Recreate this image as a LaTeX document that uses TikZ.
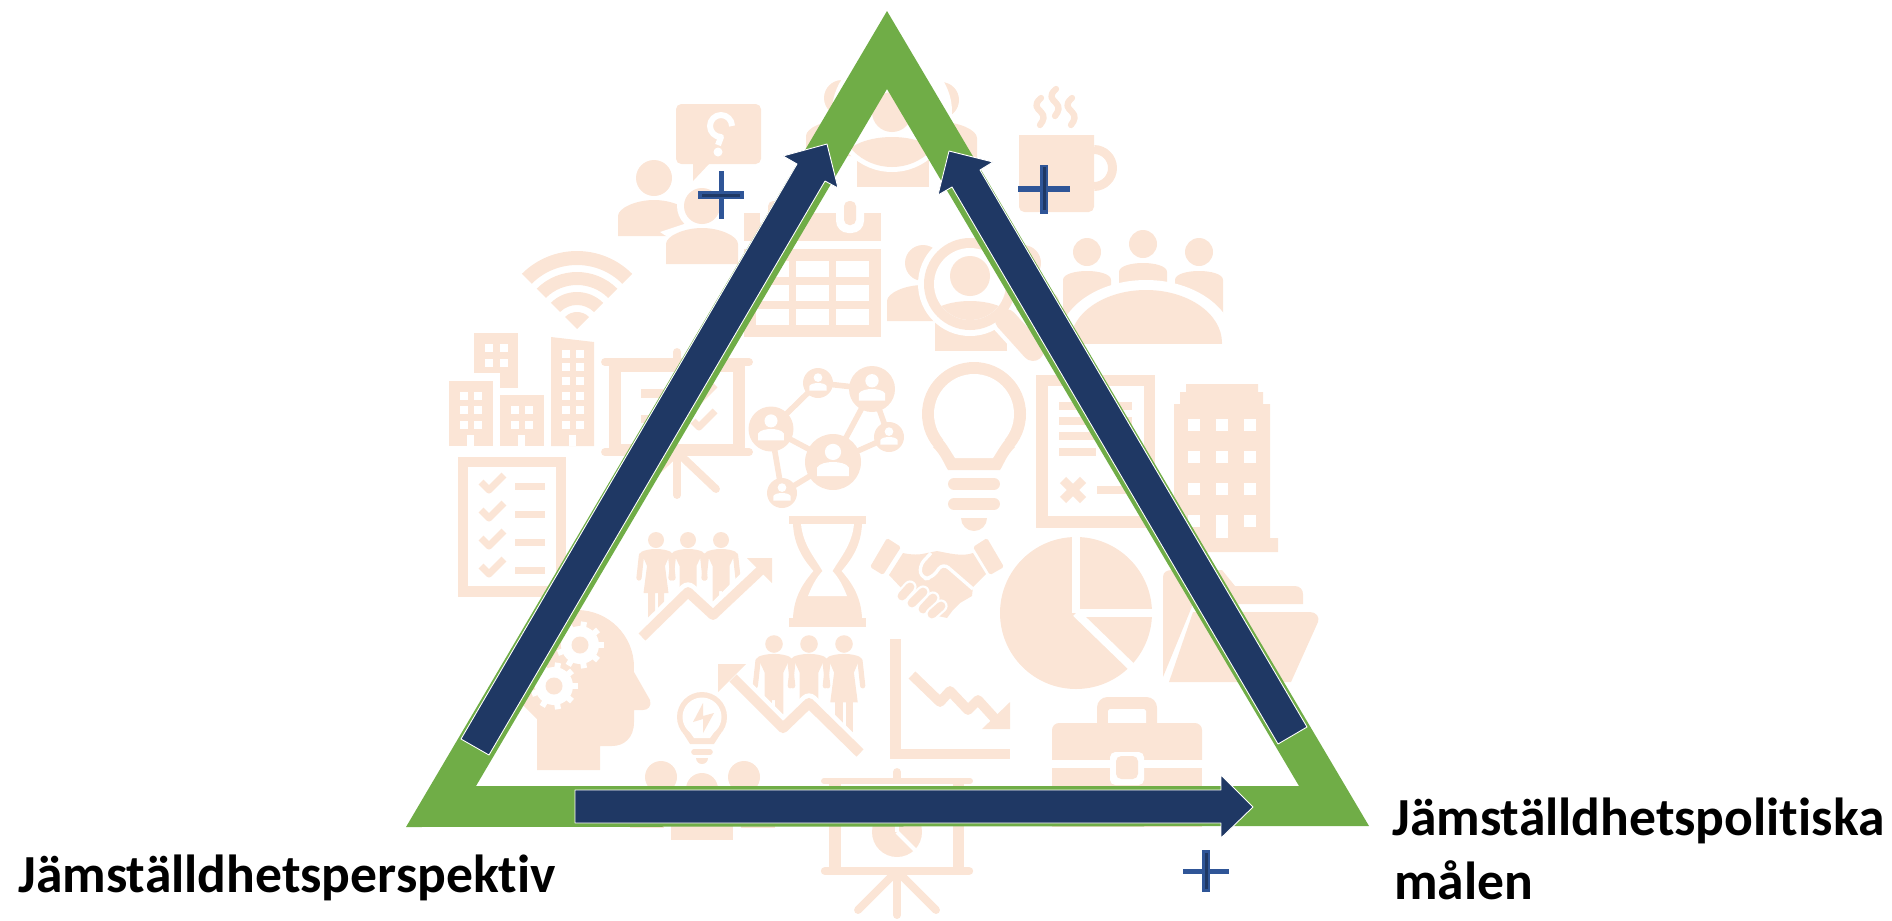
\documentclass[tikz,border=0pt]{standalone}
\usepackage{fontspec}
\setmainfont[Ligatures=NoCommon]{Carlito}
\definecolor{iconpeach}{HTML}{FBE5D6}
\definecolor{bandgreen}{HTML}{70AD47}
\definecolor{arrownavy}{HTML}{1F3864}
\definecolor{plusblue}{HTML}{2F5597}
\tikzset{
	icon/.style={fill=iconpeach},
	iconline/.style={draw=iconpeach,line width=#1},
	iconround/.style={draw=iconpeach,line cap=round,line width=#1},
	gapfill/.style={fill=white},
	gapline/.style={draw=white,line cap=round,line width=#1},
	navyarrow/.style={fill=arrownavy,draw=white,line width=0.5pt},
	bigtext/.style={font=\fontsize{30.5}{36.4}\selectfont\bfseries,inner sep=0pt,align=left}
}
\newcommand{\iconperson}[3]{
	\begin{scope}[shift={(#1,#2)},scale=#3]
		\fill[icon] (0,0) circle (18);
		\fill[icon] (-36,58)--(-36,38) .. controls (-36,30) and (-18,22) .. (0,22) .. controls (18,22) and (36,30) .. (36,38)--(36,58)--cycle;
	\end{scope}}
\newcommand{\netperson}[3]{
	\begin{scope}[shift={(#1,#2)},scale=#3]
		\fill[icon] (0,0) circle (1);
		\fill[gapfill] (0,-0.36) circle (0.29);
		\fill[gapfill] (-0.57,0.5)--(-0.57,0.2) .. controls (-0.5,0.05) and (-0.2,0) .. (0,0) .. controls (0.2,0) and (0.5,0.05) .. (0.57,0.2)--(0.57,0.5)--cycle;
	\end{scope}}
\newcommand{\figtorso}[3]{
	\begin{scope}[shift={(#1,#2)},scale=#3]
		\fill[icon] (0,0) circle (8);
		\draw[iconround=3pt] (-14.5,15)--(-17,38);
		\draw[iconround=3pt] (14.5,15)--(17,38);
	\end{scope}}
\newcommand{\figwoman}[3]{
	\figtorso{#1}{#2}{#3}
	\begin{scope}[shift={(#1,#2)},scale=#3]
		\fill[icon] (-15,12) .. controls (-8,8) and (8,8) .. (15,12)--(9,26)--(12.5,53)--(8,53)--(8,80)--(2,80)--(2,53)--(-1,53)--(-1,80)--(-8,80)--(-8,53)--(-12.5,53)--(-9,26)--cycle;
	\end{scope}}
\newcommand{\figman}[3]{
	\figtorso{#1}{#2}{#3}
	\begin{scope}[shift={(#1,#2)},scale=#3]
		\fill[icon] (-15,12) .. controls (-8,8) and (8,8) .. (15,12)--(8.5,26)--(8.5,80)--(1,80)--(1,51)--(-2,51)--(-2,80)--(-8.5,80)--(-8.5,26)--cycle;
	\end{scope}}
\newcommand{\icongear}[2]{
	\begin{scope}[shift={(#1,#2)}]
		\fill[gapfill] (0,0) circle (19);
		\foreach \a in {0,40,...,320}
			\draw[white,line width=3.4pt] (\a:16)--(\a:23.5);
		\fill[icon] (0,0) circle (8.5);
	\end{scope}}
\newcommand{\plusmark}[6]{
	\fill[plusblue] (#1-#3,#2-#5)rectangle(#1+#3,#2+#5);
	\fill[plusblue] (#1-#6,#2-#4)rectangle(#1+#6,#2+#4);}
\begin{document}
\begin{tikzpicture}[line join=round,x=0.02cm,y=-0.02cm]
	\useasboundingbox (0,0) rectangle (1892,920);
	% speech bubble and two persons
	\fill[icon,rounded corners=3pt] (676,104) rectangle (761,164);
	\fill[icon] (693,160)--(693,181)--(709,164)--(709,160)--cycle;
	\draw[gapline=3.4pt,line cap=butt] (732,126) arc[start angle=0,end angle=-270,radius=11]--(718,145);
	\fill[gapfill] (718,152) circle (4.5);
	\iconperson{654}{178}{1}
	\fill[gapfill] (702,206) circle (25);
	\fill[gapfill] (660,232)--(690,222)--(710,240)--(680,245)--cycle;
	\iconperson{702}{206}{1}
	% wifi
	\begin{scope}[shift={(577,329)}]
		\foreach \ro/\ri in {78/64,57/44,37/24}
			\fill[icon] (-135:\ro) arc[start angle=-135,end angle=-45,radius=\ro]--(-45:\ri) arc[start angle=-45,end angle=-135,radius=\ri]--cycle;
		\fill[icon] (0,0)--(-135:17) arc[start angle=-135,end angle=-45,radius=17]--cycle;
	\end{scope}
	% calendar
	\fill[icon] (744,213) rectangle (881,241);
	\fill[icon] (744,249) rectangle (881,337);
	\foreach \x in {756,796,836}
		\foreach \y in {261,285,309}
			\fill[gapfill] (\x,\y) rectangle (\x+32.5,\y+16);
	\foreach \x in {774,850}{
		\fill[gapfill,rounded corners=7pt] (\x-14,200) rectangle (\x+14,233);
		\fill[icon,rounded corners=3pt] (\x-6,201) rectangle (\x+6,225);}
	% person group below the apex
	\iconperson{842}{98}{1}
	\iconperson{941}{100}{1}
	\fill[icon] (857,187)--(857,160)--(929,160)--(929,187)--cycle;
	\fill[gapfill] (892,112) circle (60);
	\begin{scope}
		\clip (892,112) circle (55);
		\fill[icon] (892,162) ellipse (50 and 25);
	\end{scope}
	\fill[icon] (892,112) circle (20);
	% person with magnifier
	\iconperson{923}{263}{1}
	\iconperson{1023}{263}{1}
	\fill[icon] (935,351)--(935,320)--(1007,320)--(1007,351)--cycle;
	\fill[gapfill] (970,284) circle (52);
	\draw[gapline=17pt] (1002,316)--(1033,350);
	\draw[iconround=12.5pt] (1006,320)--(1033,350);
	\fill[icon] (970,284) circle (46);
	\fill[gapfill] (970,284) circle (36);
	\fill[icon] (970,276) circle (20);
	\begin{scope}
		\clip (970,284) circle (36);
		\fill[icon] (970,326) ellipse (48 and 25);
	\end{scope}
	% mug
	\fill[icon] (1019,135)--(1094,135) [rounded corners=3pt]--(1094,212)--(1019,212) [sharp corners]--cycle;
	\draw[iconline=5.1pt] (1094,149.5) arc[start angle=-90,end angle=90,radius=18.5];
	\foreach \x/\y in {1041/98,1056/89,1072/98}
		\draw[iconround=3.6pt] (\x,\y) .. controls (\x-8,\y+7) and (\x-4,\y+10) .. (\x,\y+14) .. controls (\x+4,\y+18) and (\x+3,\y+22) .. (\x-1,\y+27);
	% meeting table
	\foreach \x/\y in {1087/252,1143/244,1199/252}{
		\fill[icon] (\x,\y) circle (14);
		\fill[icon] (\x-24,\y+69)--(\x-24,\y+28) .. controls (\x-24,\y+22) and (\x-12,\y+19) .. (\x,\y+19) .. controls (\x+12,\y+19) and (\x+24,\y+22) .. (\x+24,\y+28)--(\x+24,\y+69)--cycle;}
	\fill[gapfill] (1146,343) ellipse (88 and 63);
	\fill[gapfill] (1050,343) rectangle (1240,360);
	\begin{scope}
		\clip (1060,280) rectangle (1235,343);
		\fill[icon] (1146,343) ellipse (76 and 53);
	\end{scope}
	% buildings
	\fill[icon] (474,333) rectangle (518,373);
	\fill[icon] (500,373) rectangle (518,388);
	\fill[icon] (449,381) rectangle (493,446);
	\fill[icon] (500,395) rectangle (544,446);
	\fill[icon] (551,337)--(594,342)--(594,446)--(551,446)--cycle;
	\foreach \x/\w in {467/7,518/7,569/7}
		\fill[gapfill] (\x,435) rectangle (\x+\w,446);
	\foreach \x/\y in {485/344,500/344,485/359,500/359,460/392,474/392,460/406,474/406,460/421,474/421,511/406,525/406,511/421,525/421,562/350,576/350,562/363,576/363,562/377,576/377,562/392,576/392,562/406,576/406,562/421,576/421}
		\fill[gapfill] (\x,\y) rectangle (\x+7.5,\y+7.5);
	% checklist
	\fill[icon] (458,457) rectangle (566,597);
	\fill[gapfill] (468,467) rectangle (556,586);
	\foreach \y in {485,513,541,569}{
		\draw[iconline=4pt] (481,\y-3)--(489,\y+5)--(504,\y-10);
		\fill[icon] (515,\y-2) rectangle (545,\y+5);}
	% presentation board
	\fill[icon] (609,358) rectangle (745,456);
	\fill[gapfill] (621,372) rectangle (733,444);
	\draw[iconround=4.5pt] (605,362)--(749,362);
	\draw[iconround=4.5pt] (605,452)--(749,452);
	\draw[iconround=4.5pt] (677,352)--(677,362);
	\draw[iconround=4.5pt] (677,452)--(677,495);
	\draw[iconround=4.5pt] (677,452)--(716,489);
	\draw[iconround=4.5pt] (677,452)--(638,489);
	\fill[icon] (641,389) rectangle (690,398);
	\fill[icon] (641,415) rectangle (690,423);
	\draw[iconline=4pt] (693,395)--(699,401)--(715,385);
	\draw[iconline=4pt] (693,421)--(699,427)--(715,411);
	% network
	\coordinate (nodeA) at (771,429);
	\coordinate (nodeB) at (818,383);
	\coordinate (nodeC) at (872,389);
	\coordinate (nodeD) at (889,437);
	\coordinate (nodeE) at (833,462);
	\coordinate (nodeF) at (782,493);
	\foreach \a/\b in {nodeA/nodeB,nodeB/nodeC,nodeC/nodeE,nodeC/nodeD,nodeD/nodeE,nodeA/nodeE,nodeA/nodeF,nodeF/nodeE}
		\draw[iconline=3.2pt] (\a)--(\b);
	\netperson{771}{429}{22.5}
	\netperson{818}{383}{15}
	\netperson{872}{389}{23}
	\netperson{889}{437}{15}
	\netperson{833}{462}{28}
	\netperson{782}{493}{15}
	% light bulb
	\fill[icon] (974,414) circle (52);
	\fill[icon] (933,447) .. controls (942,456) and (944,464) .. (948,470)--(1000,470) .. controls (1004,464) and (1006,456) .. (1015,447)--cycle;
	\fill[gapfill] (974,414) circle (40);
	\fill[gapfill] (943,440) .. controls (948,446) and (951,452) .. (955,458)--(993,458) .. controls (997,452) and (1000,446) .. (1005,440)--cycle;
	\draw[iconround=6.8pt] (954,484)--(994,484);
	\draw[iconround=6.8pt] (954,504)--(994,504);
	\fill[icon] (961,518) arc[start angle=180,end angle=0,radius=13]--cycle;
	% document with lines
	\fill[icon] (1036,375) rectangle (1155,528);
	\fill[gapfill] (1048,386) rectangle (1144,516);
	\foreach \y in {402,417,432}
		\fill[icon] (1059,\y) rectangle (1132,\y+8);
	\fill[icon] (1059,448) rectangle (1096,456);
	\draw[iconline=5pt] (1063,480)--(1083,500);
	\draw[iconline=5pt] (1083,480)--(1063,500);
	\fill[icon] (1097,486) rectangle (1132,494);
	% large building
	\fill[icon] (1186,384)--(1258,384)--(1258,392)--(1263,392)--(1263,404)--(1270,404)--(1270,538)--(1278,538)--(1278,552)--(1166,552)--(1166,538)--(1174,538)--(1174,404)--(1180,404)--(1180,392)--(1186,392)--cycle;
	\foreach \x in {1188,1216,1244}
		\foreach \y in {419,451,483,515}
			\fill[gapfill] (\x,\y) rectangle (\x+12,\y+12);
	\fill[gapfill] (1216,515) rectangle (1228,538);
	% pie chart
	\fill[icon] (1076,613) circle (76);
	\draw[white,line width=4.6pt] (1076,613)--(1076,530);
	\draw[white,line width=4.6pt] (1076,613)--(1160,613);
	\draw[white,line width=4.6pt] (1076,613)--(1140,675);
	% handshake
	\fill[icon,rounded corners=1pt] (887,538)--(901,547)--(883,575)--(870,567)--cycle;
	\fill[icon,rounded corners=1pt] (987,538)--(973,547)--(990,575)--(1004,567)--cycle;
	\fill[icon] (903,553) .. controls (912,555) and (920,555) .. (927,553)--(937,551) .. controls (948,553) and (962,557) .. (973,553)--(986,574)--(973,587)--(972,596)--(960,603)--(953,610)--(947,618)--(938,616)--(905,592)--(889,575)--cycle;
	\foreach \xa/\ya/\xb/\yb in {902/596/910/587,912/603/923/592,923/609/933/598,932/614/941/606}{
		\draw[gapline=7.5pt] (\xa,\ya)--(\xb,\yb);
		\draw[iconround=5pt] (\xa,\ya)--(\xb,\yb);}
	\draw[white,line width=1.9pt,rounded corners=4pt] (931,553)--(919,566)--(922,579)--(932,578)--(943,563)--(973,589);
	% hourglass
	\fill[icon] (789,516) rectangle (866,524);
	\fill[icon] (789,618) rectangle (866,627);
	\fill[icon] (793,524) .. controls (794,548) and (806,562) .. (813.5,571) .. controls (806,580) and (794,594) .. (793,618)--(862,618) .. controls (861,594) and (849,580) .. (841.5,571) .. controls (849,562) and (861,548) .. (862,524)--cycle;
	\fill[gapfill] (801,524) .. controls (803,545) and (815,558) .. (822.5,571) .. controls (816,578) and (812,586) .. (808,596)--(847,596) .. controls (843,586) and (839,578) .. (832.5,571) .. controls (840,558) and (852,545) .. (854,524)--cycle;
	% figures with rising arrow
	\figwoman{656}{540}{1}
	\figman{688}{540}{1}
	\figman{721}{540}{1}
	\fill[gapfill] (632,640)--(642,637)--(688,592)--(713,615)--(763,568)--(775,640)--cycle;
	\draw[white,line width=11pt] (642,637)--(688,592)--(713,615)--(758,570);
	\draw[iconline=5.6pt] (642,637)--(688,592)--(713,615)--(763,568);
	\fill[icon] (747,558)--(772,558)--(772,583)--cycle;
	% figures with falling arrow
	\figman{774}{644}{1.1}
	\figman{809}{644}{1.1}
	\figwoman{844}{644}{1.1}
	\fill[gapfill] (733,678)--(783,728)--(809,703)--(860,753)--(860,760)--(733,760)--cycle;
	\draw[white,line width=11pt] (733,678)--(783,728)--(809,703)--(860,753);
	\draw[iconline=5.8pt] (733,678)--(783,728)--(809,703)--(860,753);
	\fill[icon] (718,664)--(746,664)--(718,692)--cycle;
	% head with gears
	\fill[icon] (577,667) circle (57);
	\fill[icon] (634,672)--(650,700) .. controls (652,706) and (648,710) .. (643,710)--(634,710)--(634,722) .. controls (634,738) and (624,746) .. (612,746)--(600,746)--(600,770)--(537,770)--(537,719)--(523,705)--(560,650)--cycle;
	\icongear{580}{645}
	\icongear{554}{686}
	% small bulb
	\fill[icon] (702,717) circle (25);
	\fill[icon] (683,733)--(690,744)--(714,744)--(721,733)--cycle;
	\fill[gapfill] (702,717) circle (19.5);
	\fill[gapfill] (689,731)--(694,738)--(710,738)--(715,731)--cycle;
	\fill[icon] (703,703)--(693,722)--(703,719)--(703,733)--(714,713)--(703,716)--cycle;
	\draw[iconround=3.2pt] (694,752)--(710,752);
	\fill[icon] (696,758) arc[start angle=180,end angle=0,radius=6]--cycle;
	% falling chart
	\fill[icon] (890,639) rectangle (901,759);
	\fill[icon] (901,749) rectangle (1010,759);
	\draw[iconline=5.6pt] (912,675)--(940,702)--(950,691)--(968,710)--(978,700)--(998,722);
	\fill[icon] (1010,702)--(1010,729)--(982,729)--cycle;
	% briefcase
	\fill[icon,rounded corners=6pt] (1097,735)--(1097,697)--(1157,697)--(1157,735)--cycle;
	\fill[gapfill,rounded corners=1pt] (1108,735)--(1108,709)--(1146,709)--(1146,735)--cycle;
	\fill[icon] (1052,760) [rounded corners=4pt]--(1052,723)--(1202,723) [sharp corners]--(1202,760)--cycle;
	\fill[icon] (1052,768) rectangle (1202,827);
	\fill[gapfill] (1052,760) rectangle (1202,768);
	\fill[gapfill,rounded corners=3pt] (1110,752) rectangle (1144,785);
	\fill[icon,rounded corners=3pt] (1116,756) rectangle (1138,779);
	% folder
	\fill[icon] (1163,677)--(1163,577) .. controls (1163,572) and (1167,570) .. (1172,570)--(1222,570)--(1235,586)--(1295,586) .. controls (1300,586) and (1303,590) .. (1303,594)--(1303,604)--(1193,604)--cycle;
	\fill[icon] (1193,612)--(1310,612) .. controls (1316,612) and (1320,617) .. (1318,622)--(1291,682)--(1169,682)--cycle;
	% persons at the base
	\foreach \x/\y in {661/777,702/789,744/777}
		\fill[icon] (\x,\y) circle (16);
	\fill[icon] (630,800) rectangle (664,828);
	\fill[icon] (671,800) rectangle (733,840);
	\fill[icon] (741,800) rectangle (775,828);
	% lower board
	\fill[icon] (829,781) rectangle (841,871);
	\fill[icon] (953,781) rectangle (964,871);
	\draw[iconround=3.4pt] (824,781)--(970,781);
	\draw[iconround=4.8pt] (825,871)--(969,871);
	\draw[iconround=4.5pt] (897,772)--(897,780);
	\draw[iconround=4.5pt] (897,871)--(897,915);
	\draw[iconround=4.5pt] (897,871)--(858,910);
	\draw[iconround=4.5pt] (897,871)--(936,910);
	\fill[icon] (897,832) circle (25);
	\draw[white,line width=2.4pt] (897,832)--(925,860);
	\draw[white,line width=2.4pt] (897,832)--(897,800);
	% triangle
	\fill[bandgreen,even odd rule] (887,11)--(1369,826)--(406,827)--cycle (887,89)--(476,786)--(1299,786)--cycle;
	% plus signs
	\plusmark{721}{195}{23}{24}{4}{2.5}
	\fill[arrownavy] (702,193.5) rectangle (740,196.5);
	\plusmark{1044}{189}{26}{24.5}{3}{4}
	\fill[arrownavy] (1042.5,167) rectangle (1045.5,210);
	\plusmark{1206}{871}{23}{21}{2.5}{4}
	\fill[arrownavy] (1204.5,853) rectangle (1207.5,889);
	% arrows
	\draw[navyarrow] (461,739)--(797,164)--(783,156)--(827,144)--(838,188)--(825,181)--(489,755)--cycle;
	\draw[navyarrow] (1307,727)--(980,170)--(993,162)--(949,151)--(938,195)--(952,187)--(1278,744)--cycle;
	\draw[navyarrow] (575,790)--(1221,790)--(1221,775)--(1253,807)--(1221,838)--(1221,823)--(575,823)--cycle;
	% labels
	\node[bigtext,anchor=base west] (persp) at (18,892) {Jämställdhetsperspektiv};
	\node[bigtext,anchor=base west] (polit) at (1392,835) {Jämställdhetspolitiska};
	\node[bigtext,anchor=base west] (malen) at (1394,899) {målen};
\end{tikzpicture}
\end{document}
